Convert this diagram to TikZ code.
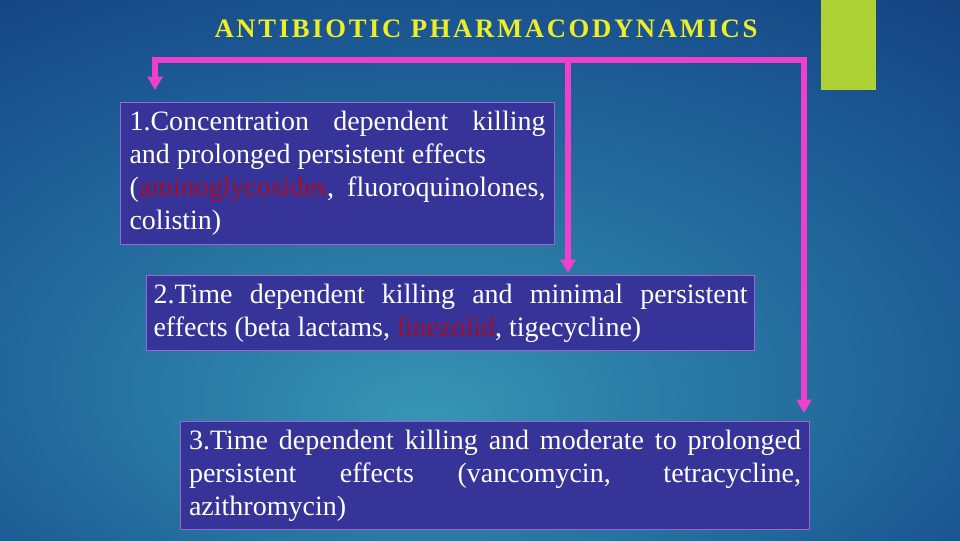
\documentclass[tikz,border=0pt]{standalone}
\usepackage{fontspec}
\setmainfont{Liberation Serif}
\newfontfamily\titlefont[LetterSpace=10]{Liberation Serif}
\usepackage{xcolor}
\usetikzlibrary{
    arrows.meta,
    calc,
    positioning
}
\definecolor{bgin}{RGB}{56,150,180}
\definecolor{bgnear}{RGB}{44,128,168}
\definecolor{bgmid}{RGB}{26,84,144}
\definecolor{bgout}{RGB}{14,46,108}
\definecolor{bgedge}{RGB}{10,36,100}
\definecolor{boxfill}{RGB}{54,51,153}
\definecolor{boxline}{RGB}{160,100,210}
\definecolor{flowpink}{RGB}{238,64,204}
\definecolor{drugred}{RGB}{160,16,42}
\definecolor{titleyellow}{RGB}{238,238,40}
\definecolor{barlime}{RGB}{174,209,54}
\pgfdeclareradialshading{slidebg}{\pgfpoint{-3bp}{-14bp}}{color(0bp)=(bgin); color(10bp)=(bgnear); color(32bp)=(bgmid); color(52bp)=(bgout); color(75bp)=(bgedge)}
\hbadness=10000

\begin{document}
\begin{tikzpicture}[x=0.75pt, y=-0.75pt,
    classbox/.style={draw=boxline, line width=0.8pt, fill=boxfill, text=white,
        anchor=north west, align=justify, inner ysep=3pt,
        font=\fontsize{21}{24.75}\selectfont},
    flow/.style={draw=flowpink, line width=4pt, line join=miter,
        arrows={-Triangle[width=11pt, length=10pt]}}
    ]
                        \useasboundingbox (0, 0) rectangle (960, 540);
                        \shade[shading=slidebg] (0, 0) rectangle (960, 540);
                        \fill[barlime] (821, 0) rectangle (876, 90);

                        \node[text=titleyellow, anchor=base, font=\titlefont\bfseries\fontsize{20}{24}\selectfont]
                            (title) at (486, 37) {ANTIBIOTIC PHARMACODYNAMICS};

                        \node[classbox, text width=312pt, inner xsep=6.75pt, minimum height=106.5pt]
                            (conc) at (120, 102) {1.Concentration dependent killing\linebreak
                            and prolonged persistent effects\newline
                            (\textcolor{drugred}{aminoglycosides}, fluoroquinolones,\linebreak
                            colistin)};
                        \node[classbox, text width=445.5pt, inner xsep=5.25pt, minimum height=56.25pt]
                            (mintime) at (146, 275) {2.Time dependent killing and minimal persistent\linebreak
                            effects (beta lactams, \textcolor{drugred}{linezolid}, tigecycline)};
                        \node[classbox, text width=459pt, inner xsep=6.375pt, minimum height=81pt]
                            (modtime) at (180, 421) {3.Time dependent killing and moderate to prolonged\linebreak
                            persistent effects (vancomycin, tetracycline,\linebreak
                            azithromycin)};

                        % distribution bus and arrows
                        \coordinate (bus-l) at (155, 60);
                        \coordinate (bus-m) at (568, 60);
                        \coordinate (bus-r) at (804, 60);
                        \draw[flow, arrows={Triangle[width=11pt, length=10pt]-Triangle[width=11pt, length=10pt]},
                              shorten <=12pt*0.75, shorten >=8pt*0.75]
                        (bus-l |- conc.north) -- (bus-l) -- (bus-r) -- (bus-r |- modtime.north);
                        \draw[flow, shorten >=1.5pt] (bus-m) -- (bus-m |- mintime.north);
                    \end{tikzpicture}
\end{document}
